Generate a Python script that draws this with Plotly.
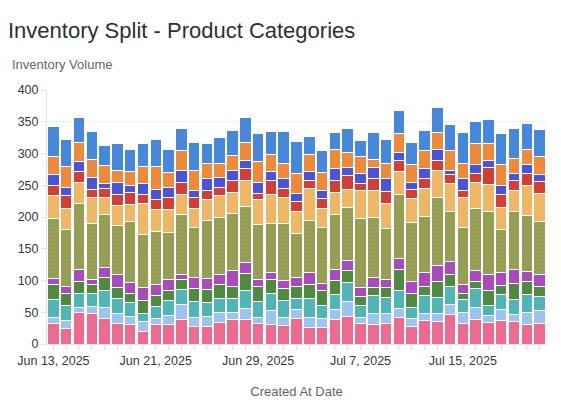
import plotly.graph_objects as go
import pandas as pd

# dates, one bar per day
dates = pd.date_range("2025-06-13", "2025-07-21", freq="D")

# stacked layers, bottom to top
cat_a = [33, 24, 49, 48, 40, 32, 30, 20, 31, 30, 39, 28, 27, 34, 39, 39, 33, 31, 29, 40,
         26, 26, 38, 43, 32, 31, 33, 41, 28, 37, 36, 46, 33, 39, 34, 37, 36, 30, 33]
cat_b = [8, 13, 8, 11, 17, 16, 13, 15, 9, 15, 24, 13, 16, 15, 11, 17, 8, 21, 12, 14,
         15, 14, 17, 24, 10, 17, 15, 15, 12, 11, 12, 17, 16, 19, 11, 18, 11, 20, 19]
cat_c = [29, 24, 23, 21, 27, 23, 23, 13, 19, 24, 23, 26, 23, 22, 22, 28, 26, 28, 27, 18,
         31, 20, 23, 30, 19, 29, 26, 28, 17, 29, 25, 28, 21, 30, 15, 23, 23, 28, 23]
cat_d = [23, 18, 19, 14, 20, 18, 14, 20, 18, 15, 15, 21, 20, 23, 19, 27, 24, 21, 20, 19,
         21, 25, 22, 18, 14, 12, 15, 34, 23, 13, 26, 18, 10, 11, 24, 14, 25, 21, 16]
cat_e = [10, 12, 19, 8, 17, 21, 17, 21, 17, 17, 9, 16, 17, 15, 25, 17, 11, 11, 12, 14,
         20, 11, 18, 17, 14, 16, 12, 17, 18, 22, 25, 21, 14, 17, 26, 21, 23, 15, 19]
cat_f = [94, 90, 103, 88, 83, 76, 96, 84, 83, 75, 94, 79, 92, 90, 89, 89, 86, 78, 90, 69,
         81, 88, 86, 83, 109, 94, 81, 101, 94, 89, 107, 79, 90, 97, 99, 67, 91, 88, 83]
cat_g = [37, 33, 34, 41, 27, 32, 27, 48, 35, 36, 32, 30, 32, 35, 34, 41, 40, 45, 40, 34,
         51, 29, 35, 29, 43, 42, 40, 35, 37, 44, 42, 43, 47, 41, 42, 35, 32, 48, 44]
cat_h = [16, 20, 16, 13, 14, 18, 18, 15, 16, 19, 18, 18, 15, 12, 19, 19, 9, 22, 15, 16,
         12, 16, 18, 21, 12, 19, 18, 18, 14, 16, 16, 15, 11, 14, 27, 20, 16, 19, 19]
cat_i = [17, 13, 17, 18, 8, 18, 11, 16, 15, 15, 19, 11, 18, 16, 16, 12, 18, 15, 15, 13,
         15, 12, 19, 13, 16, 18, 20, 12, 12, 15, 18, 7, 18, 14, 11, 15, 12, 14, 11]
cat_j = [29, 33, 29, 28, 28, 20, 23, 28, 37, 24, 32, 32, 25, 23, 23, 29, 33, 27, 25, 32,
         27, 29, 30, 23, 27, 13, 25, 31, 28, 29, 26, 30, 25, 34, 27, 33, 23, 24, 28]
cat_k = [46, 42, 40, 45, 32, 42, 35, 35, 42, 37, 34, 44, 30, 40, 40, 38, 43, 36, 49, 50,
         27, 34, 27, 38, 24, 42, 37, 35, 34, 32, 39, 42, 48, 35, 38, 48, 47, 40, 43]

layers = [cat_a, cat_b, cat_c, cat_d, cat_e, cat_f, cat_g, cat_h, cat_i, cat_j, cat_k]
names = ["Apparel", "Accessories", "Footwear", "Home", "Beauty", "Other",
         "Grocery", "Toys", "Sports", "Books", "Electronics"]
colors = ["#ec6b8f", "#9dc3f3", "#4fb5b5", "#4e8b3e", "#ab4abd", "#959d52",
          "#eeb765", "#d33e37", "#4a54d8", "#ee8a3a", "#4688dc"]

label_days = {"2025-06-13", "2025-06-21", "2025-06-29", "2025-07-07", "2025-07-15"}
tick_text = [d.strftime("%b %-d, %Y") if d.strftime("%Y-%m-%d") in label_days else "" for d in dates]

fig = go.Figure()
for name, vals, col in zip(names, layers, colors):
    marker = dict(color=col, line=dict(color="white", width=1))
    if name == "Other":
        # the big olive band is striped with faint lines in the original
        marker["pattern"] = dict(shape="-", fillmode="replace", bgcolor=col,
                                 fgcolor="#b2b87a", fgopacity=0.25, size=4, solidity=0.2)
    fig.add_trace(go.Bar(x=dates, y=vals, name=name, marker=marker, showlegend=False))

# page body adds 8px around the figure, so the figure is 16px smaller than the window
fig.update_layout(
    barmode="stack",
    bargap=0.1,
    width=545, height=397,
    margin=dict(l=39, r=7, t=82, b=61),
    plot_bgcolor="white", paper_bgcolor="white",
    font=dict(family="Liberation Sans, Arial, sans-serif", color="#33373f", size=12),
    title=dict(text="Inventory Split - Product Categories", x=0, xanchor="left",
               y=1 - 22 / 397, yanchor="middle",
               font=dict(size=22, color="#2b303b")),
)
fig.update_xaxes(
    tickvals=dates, ticktext=tick_text,
    ticks="outside", ticklen=5, tickcolor="#dcdfe4",
    showline=True, linecolor="#e3e5e9", showgrid=False,
    tickfont=dict(size=12.5, color="#33373f"),
    title=dict(text="Created At Date", font=dict(size=13, color="#60666f"), standoff=19),
)
fig.update_yaxes(
    range=[0, 400], dtick=50,
    ticks="outside", ticklen=5, tickcolor="#e3e5e9",
    showline=True, linecolor="#e3e5e9",
    gridcolor="#eef0f3", zeroline=False,
    tickfont=dict(size=12.5, color="#33373f"),
)
fig.add_annotation(text="Inventory Volume", xref="paper", yref="paper",
                   x=-37 / 499, y=(336 - 57) / 254, xanchor="left", yanchor="middle",
                   showarrow=False, font=dict(size=13, color="#60666f"))

fig.write_html("out.html")
